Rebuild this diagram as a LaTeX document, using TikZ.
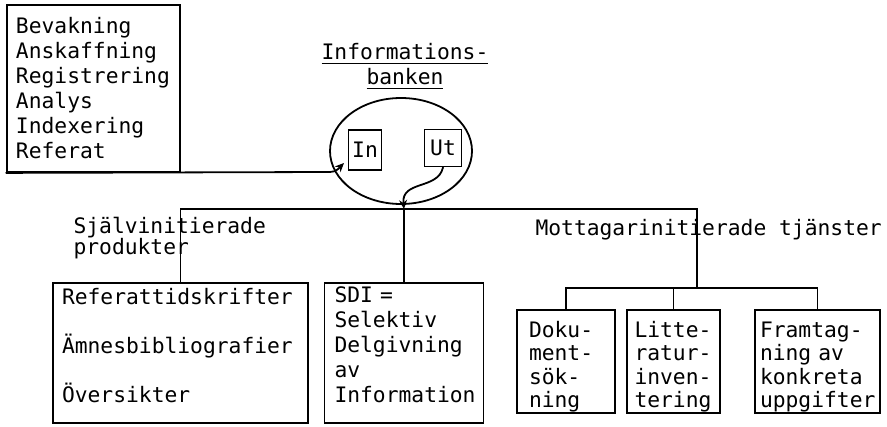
\documentclass[tikz,border=0pt]{standalone}
\usepackage{fontspec}
\usepackage{tikz}
\usetikzlibrary{shapes.geometric}
\usetikzlibrary{arrows.meta}
\newfontfamily\typer{DejaVu Sans Mono}
\tikzstyle{Typed}=[font=\typer\fontsize{21.3}{25}\selectfont]
\tikzstyle{BoxNode}=[Typed,draw,line width=1.8pt,inner xsep=9pt,inner ysep=0pt,
align=left]
\tikzstyle{Conn}=[line width=1.8pt,line cap=round]
\tikzstyle{ConnArrow}=[Conn,-{Stealth[length=9pt,width=8pt]}]
\newcommand\TopGap{\rule{0pt}{27pt}}
\newcommand\FootGap{\rule[-16pt]{0pt}{1pt}}
\newcommand\UnderBar[1]{\setbox0\hbox{#1}\rlap{\rule[-5pt]{\wd0}{1.4pt}}\box0}

\begin{document}
\begin{tikzpicture}[x=1pt,y=-1pt]
        \useasboundingbox (0,0) rectangle (887,427);
        % input side
        \node[BoxNode,text width=155pt,minimum width=173pt,minimum height=167pt](feed)at(93.5,88.5){Bevakning\\Anskaffning\\Registrering\\Analys\\Indexering\\Referat};
        \node[Typed,align=center](title)at(405,66){\UnderBar{Informations-}\\\UnderBar{banken}};
        \node[ellipse,draw,Conn,minimum width=142pt,minimum height=106pt](bank)at(401,151){};
        \node[BoxNode,inner xsep=2pt,minimum width=33pt,minimum height=40pt](in)at(365,150){In};
        \node[BoxNode,inner xsep=2pt,minimum width=37pt,minimum height=37pt](ut)at(443,148){Ut};
        \coordinate(inend)at(344,163);
        \coordinate(hub)at(404,209);
        \coordinate(split)at(697,288);
        \draw[ConnArrow](feed.south west)--(330,172) to[out=0,in=-135](inend);
        \draw[ConnArrow](ut.south)..controls(438,190)and(401,180)..(hub);
        % output side
        \node[Typed,anchor=base west,align=left](self)at(70,255){Självinitierade\\[-4pt]produkter};
        \node[Typed,anchor=base west](mott)at(532,236){Mottagarinitierade tjänster};
        \node[BoxNode,text width=237pt,minimum width=255pt,minimum height=140pt](refs)at(180.5,353){Referattidskrifter\\[24pt]Ämnesbibliografier\\[24pt]Översikter\FootGap};
        \node[BoxNode,text width=139pt,minimum width=159pt,minimum height=140pt](sdi)at(404,353){SDI =\\Selektiv\\Delgivning\\av\\Information\FootGap};
        \node[BoxNode,inner xsep=12pt,text width=74pt,minimum width=98pt,minimum height=103pt](dok)at(566,361.5){\TopGap Doku-\\[-1.5pt]ment-\\[-1.5pt]sök-\\[-1.5pt]ning};
        \node[BoxNode,inner xsep=7.5pt,text width=78pt,minimum width=93pt,minimum height=103pt](lit)at(673.5,361.5){\TopGap Litte-\\[-1.5pt]ratur-\\[-1.5pt]inven-\\[-1.5pt]tering};
        \node[BoxNode,inner xsep=5pt,text width=115pt,minimum width=125pt,minimum height=103pt](fram)at(817.5,361.5){\TopGap Framtag-\\[-1.5pt]ning av\\[-1.5pt]konkreta\\[-1.5pt]uppgifter};
        \draw[Conn](refs.north)|-(hub)-|(split);
        \draw[Conn](sdi.north)--(hub);
        \draw[Conn](dok.north)|-(split)-|(fram.north);
        \draw[Conn](lit.north)--(lit.north|-split);
    \end{tikzpicture}
\end{document}
